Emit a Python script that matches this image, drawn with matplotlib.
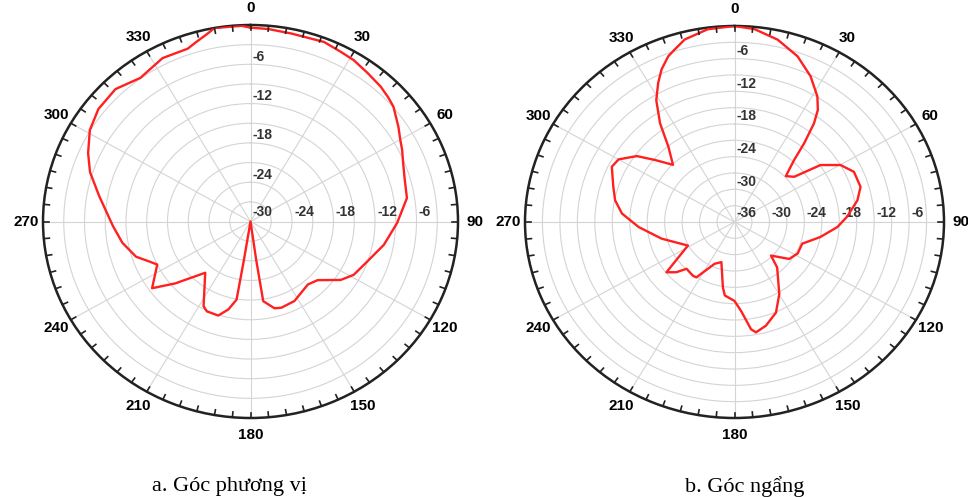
import matplotlib
matplotlib.use("Agg")
import matplotlib.pyplot as plt
import numpy as np

# azimuth pattern (a), dB vs angle in degrees
az_angle = [0, 5, 11.6, 21.2, 26.9, 31.2, 36.7, 42.4, 46.3, 49.7, 56, 60, 63.5, 68, 74,
            81, 90.6, 100.5, 111, 118.6, 124.4, 132.7, 139.2, 152.4, 161.3, 165.3,
            171.4, 172, 180, 189.2, 189.6, 193.4, 198, 204.7, 207.7, 219.9, 227.4,
            229, 234.4, 244, 247.5, 252, 260, 268, 280, 288, 294, 301, 308, 316, 324,
            333, 341, 344, 348, 350, 357.5]
az_gain = [-0.4, -0.5, -0.7, -0.6, -1.0, -1.2, -1.7, -2.1, -2.5, -2.9, -4.2, -5.0, -5.5, -6.2, -6.8,
           -7.1, -8.8, -10.4, -12.2, -13.0, -14.2, -16.8, -17.3, -16.3, -16.1, -16.3,
           -17.7, -24.0, -30, -24.0, -17.9, -16.2, -14.9, -14.9, -15.4, -19.8, -16.6,
           -15.6, -12.5, -15.0, -14.1, -12.6, -11.2, -10.1, -7.8, -5.6, -4.3, -2.9, -2.1, -1.9, -2.9,
           -2.0, -2.1, -1.5, -0.6, 0.0, -0.1]

# elevation pattern (b)
el_angle = [0, 5.5, 12.5, 19.6, 26, 31.7, 34.8, 37, 39.6, 42, 46.3, 51, 54.7, 60.1,
            65.8, 73.4, 79.3, 87, 93, 100.6, 108.9, 118, 125.8, 134.5, 138.7, 149.8,
            156.8, 164.2, 169.7, 171.8, 176, 180, 187, 189.4, 197, 204, 212.8, 215.8,
            223.8, 227.3, 231.7, 241.6, 256.3, 266.8, 274.6, 281, 287.2, 295.7, 300,
            305.8, 309.8, 314.8, 320.6, 324.8, 329, 332.8, 335.9, 339.5, 342, 345.7, 352.6]
el_gain = [0.0, -0.4, -1.7, -3.7, -6.2, -8.9, -10.9, -13.3, -17.2, -20.7, -23.8, -22.8, -17.9, -15.0,
           -13.5, -13.4, -14.5, -16.6, -18.3, -21.0, -23.7, -23.7, -24.4, -27.2, -24.9, -20.7,
           -17.9, -16.2, -15.4, -16.1, -19.6, -21.5, -22.4, -23.8, -28.3, -27.6, -23.9, -23.8,
           -24.1, -22.4, -21.1, -26.9, -23.1, -19.5, -16.6, -15.1, -14.2, -12.6, -13.0,
           -15.3, -18.2, -21.1, -18.1, -13.8, -9.9, -7.3, -5.3, -3.5, -2.7, -1.4, -0.3]

captions = ["a. Góc phương vị", "b. Góc ngẩng"]

W, H = 968, 497
fig = plt.figure(figsize=(W / 100, H / 100), dpi=100)


def polar_panel(rect, angles, gains, rmin, caption, cap_x):
    ax = fig.add_axes(rect, projection="polar")
    ax.set_aspect("auto")
    ax.set_theta_zero_location("N")
    ax.set_theta_direction(-1)
    ax.set_ylim(rmin, 0)
    ax.set_yticks(np.arange(rmin, 0.1, 3))
    ax.set_yticklabels([])
    ax.set_xticks(np.deg2rad(np.arange(0, 360, 30)))
    ax.set_xticklabels([str(a) for a in range(0, 360, 30)],
                       fontsize=11, fontweight="bold", family="Liberation Sans")
    ax.tick_params(axis="x", pad=1.5)
    ax.grid(True, color="#d4d4d4", lw=0.8)
    ax.spines["polar"].set_linewidth(1.8)
    ax.spines["polar"].set_color("#222222")

    # small inward ticks every 5 degrees on the outer ring
    tl = 0.027 * abs(rmin)
    for a in np.deg2rad(np.arange(0, 360, 5)):
        ax.plot([a, a], [-tl, 0], color="#222222", lw=1.2, clip_on=False, zorder=6)

    th = np.deg2rad(np.append(angles, angles[0]))
    g = np.append(gains, gains[0])
    ax.plot(th, g, color="#ff2020", lw=1.7, zorder=5)

    lab = dict(fontsize=10, fontweight="bold", color="#333333",
               family="Liberation Sans", textcoords="offset points")
    ax.annotate(str(rmin), (0, rmin), xytext=(1.5, 1.5), ha="left", va="bottom", **lab)
    for v in range(rmin + 6, 0, 6):
        ax.annotate(str(v), (np.pi / 2, v), xytext=(1.5, 1.5), ha="left", va="bottom", **lab)
        ax.annotate(str(v), (0, v), xytext=(1.5, 0.5), ha="left", va="bottom", **lab)

    fig.text(cap_x / W, 1 - 487 / H, caption, ha="center", va="center",
             fontsize=16, family="Liberation Serif")
    return ax


polar_panel([43 / W, 1 - 418 / H, 415 / W, 393 / H], az_angle, az_gain, -30,
            captions[0], 229)
polar_panel([525 / W, 1 - 418 / H, 419 / W, 392 / H], el_angle, el_gain, -36,
            captions[1], 745)

fig.savefig("out.png", dpi=100)
